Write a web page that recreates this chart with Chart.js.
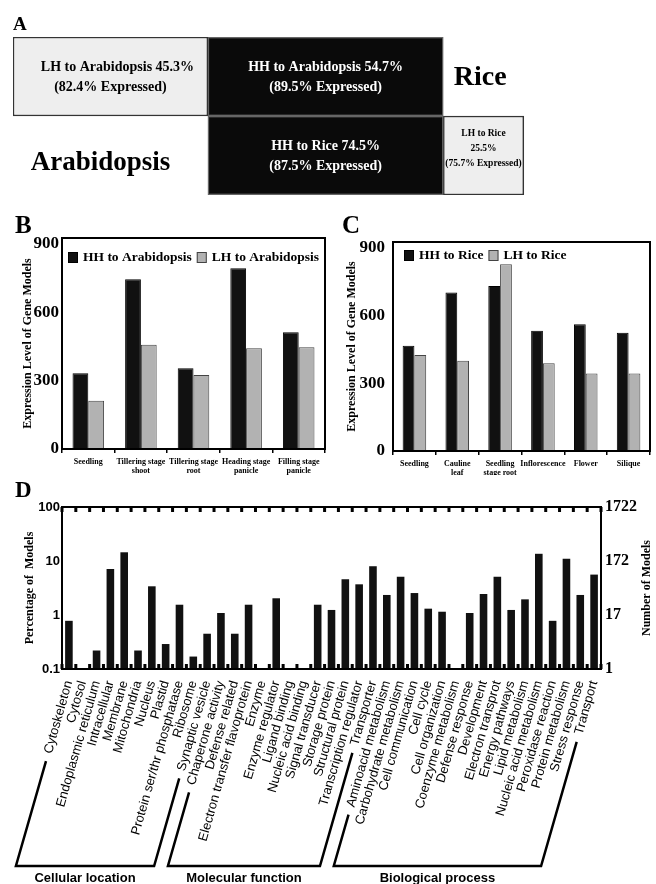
<!DOCTYPE html>
<html>
<head>
<meta charset="utf-8">
<script src="https://cdn.jsdelivr.net/npm/chart.js@4.4.1/dist/chart.umd.min.js"></script>
<style>
  html, body { margin: 0; padding: 0; background: #fff; }
  body { width: 656px; height: 884px; position: relative; overflow: hidden; }
  canvas { position: absolute; }
</style>
</head>
<body>
<canvas id="chartA" width="656" height="205" style="left:0;top:0"></canvas>
<canvas id="chartB" width="330" height="270" style="left:0;top:205px"></canvas>
<canvas id="chartC" width="331" height="270" style="left:325px;top:205px"></canvas>
<canvas id="chartD" width="656" height="409" style="left:0;top:475px"></canvas>
<script>
const SERIF = '"Liberation Serif", "Times New Roman", serif';
const SANS = '"Liberation Sans", Arial, sans-serif';

// panel A: share of homologous gene models
const mapRows = ['Rice', 'Arabidopsis'];
const mapNames = ['LH to Arabidopsis', 'HH to Arabidopsis', 'HH to Rice', 'LH to Rice'];
const mapShare = [45.3, 54.7, 74.5, 25.5];
const mapExpressed = [82.4, 89.5, 87.5, 75.7];

// panel B: rice tissues
const riceTissues = [['Seedling'], ['Tillering stage', 'shoot'], ['Tillering stage', 'root'], ['Heading stage', 'panicle'], ['Filling stage', 'panicle']];
const riceHH = [332, 745, 354, 793, 512];
const riceLH = [212, 457, 325, 442, 446];

// panel C: arabidopsis tissues
const arabTissues = [['Seedling'], ['Cauline', 'leaf'], ['Seedling', 'stage root'], ['Inflorescence'], ['Flower'], ['Silique']];
const arabHH = [467, 703, 732, 533, 562, 524];
const arabLH = [426, 400, 828, 389, 344, 344];

const exprTicks = [0, 300, 600, 900];

// panel D: GO categories
const goTerms = ['Cytoskeleton', 'Cytosol', 'Endoplasmic reticulum', 'Intracellular', 'Membrane', 'Mitochondria',
  'Nucleus', 'Plastid', 'Protein ser/thr phosphatase', 'Ribosome', 'Synaptic vesicle', 'Chaperone activity',
  'Defense related', 'Electron transfer flavoprotein', 'Enzyme', 'Enzyme regulator', 'Ligand binding',
  'Nucleic acid binding', 'Signal transducer', 'Storage protein', 'Structural protein', 'Transcription regulator',
  'Transporter', 'Aminoacid metabolism', 'Carbohydrate metabolism', 'Cell communication', 'Cell cycle',
  'Cell organization', 'Coenzyme metabolism', 'Defense response', 'Development', 'Electron transprot',
  'Energy pathways', 'Lipid metabolism', 'Nucleic acid metabolism', 'Peroxidase reaction', 'Protein metabolism',
  'Stress response', 'Transport'];
const goPercent = [0.78, null, 0.22, 7.1, 14.5, 0.22, 3.4, 0.29, 1.55, 0.17, 0.45, 1.09, 0.45, 1.55, null, 2.04,
  null, null, 1.55, 1.24, 4.6, 3.7, 8.0, 2.35, 5.1, 2.55, 1.31, 1.15, null, 1.09, 2.45, 5.1, 1.24, 1.95, 13.6,
  0.78, 11.0, 2.35, 5.6];
const goGroups = ['Cellular location', 'Molecular function', 'Biological process'];
const goGroupFirst = [0, 11, 23];
const goGroupLast = [10, 22, 38];
const percentTicks = [0.1, 1, 10, 100];
const totalModels = 1722;

Chart.defaults.color = '#000';
Chart.defaults.font.family = SERIF;

function panelLetter(letter, x, y, size) {
  return {
    id: 'letter' + letter,
    afterDraw(chart) {
      const ctx = chart.ctx;
      ctx.save();
      ctx.fillStyle = '#000';
      ctx.font = 'bold ' + size + 'px ' + SERIF;
      ctx.textBaseline = 'alphabetic';
      ctx.fillText(letter, x, y);
      ctx.restore();
    }
  };
}

const framePlugin = {
  id: 'frame',
  afterDraw(chart) {
    const { ctx, chartArea: a } = chart;
    ctx.save();
    ctx.strokeStyle = '#000';
    ctx.lineWidth = 2;
    ctx.strokeRect(a.left, a.top, a.right - a.left, a.bottom - a.top);
    ctx.restore();
  }
};

// legend sits inside the plot box, top left
function boxLegend(dx, dy, size) {
  return {
    id: 'boxLegend',
    afterDraw(chart) {
      const { ctx, chartArea: a } = chart;
      ctx.save();
      ctx.font = 'bold ' + size + 'px ' + SERIF;
      ctx.textBaseline = 'middle';
      let x = a.left + dx;
      const y = a.top + dy;
      chart.data.datasets.forEach(ds => {
        ctx.fillStyle = ds.backgroundColor;
        ctx.fillRect(x, y, 10, 11);
        ctx.strokeStyle = ds.borderColor;
        ctx.lineWidth = 1;
        ctx.strokeRect(x + 0.5, y + 0.5, 9, 10);
        ctx.fillStyle = '#000';
        ctx.fillText(ds.label, x + 15, y + 6);
        x += 15 + ctx.measureText(ds.label).width + 5;
      });
      ctx.restore();
    }
  };
}

// ---------- A ----------
const k = mapShare[1] / mapShare[2]; // row 2 scaled so both HH blocks line up
const spans = [
  [0, mapShare[0]],
  [mapShare[0], mapShare[0] + mapShare[1]],
  [mapShare[0], mapShare[0] + mapShare[2] * k],
  [mapShare[0] + mapShare[2] * k, mapShare[0] + (mapShare[2] + mapShare[3]) * k],
];
const aFill = ['#eeeeee', '#0a0a0a', '#0a0a0a', '#eeeeee'];
const aMax = 119;

new Chart(document.getElementById('chartA'), {
  type: 'bar',
  data: {
    labels: mapRows,
    datasets: mapNames.map((name, i) => ({
      label: name,
      data: i < 2 ? [spans[i], null] : [null, spans[i]],
      backgroundColor: aFill[i],
      borderColor: i === 0 || i === 3 ? '#333' : '#666',
      borderWidth: 1.5,
      borderSkipped: false,
      grouped: false,
      categoryPercentage: 1,
      barPercentage: 1,
    })),
  },
  options: {
    indexAxis: 'y',
    responsive: false,
    animation: false,
    layout: { padding: { left: 13, top: 37, right: 656 - 525, bottom: 10 } },
    plugins: { legend: { display: false }, tooltip: { enabled: false } },
    scales: {
      x: { type: 'linear', min: 0, max: aMax, display: false },
      y: { display: false },
    },
  },
  plugins: [panelLetter('A', 13, 30, 19), {
    id: 'boxText',
    afterDatasetsDraw(chart) {
      const ctx = chart.ctx;
      ctx.save();
      ctx.textAlign = 'center';
      ctx.textBaseline = 'middle';
      chart.data.datasets.forEach((ds, i) => {
        const bar = chart.getDatasetMeta(i).data[i < 2 ? 0 : 1];
        const cx = (bar.x + bar.base) / 2;
        ctx.fillStyle = aFill[i] === '#0a0a0a' ? '#fff' : '#000';
        if (i === 3) {
          ctx.font = 'bold 9.5px ' + SERIF;
          const lines = [mapNames[i], mapShare[i] + '%', '(' + mapExpressed[i] + '% Expressed)'];
          lines.forEach((t, j) => ctx.fillText(t, cx, bar.y - 7 + (j - 1) * 15));
        } else {
          ctx.font = 'bold 14px ' + SERIF;
          ctx.fillText(mapNames[i] + ' ' + mapShare[i] + '%', cx + (i === 0 ? 7 : 0), bar.y - 9);
          ctx.fillText('(' + mapExpressed[i] + '% Expressed)', cx, bar.y + 11);
        }
      });
      const x = chart.scales.x, y = chart.scales.y;
      ctx.fillStyle = '#000';
      ctx.font = 'bold 28px ' + SERIF;
      ctx.fillText(mapRows[0], x.getPixelForValue((mapShare[0] + mapShare[1] + aMax) / 2) - 4, y.getPixelForValue(0) + 1);
      ctx.font = 'bold 27px ' + SERIF;
      ctx.fillText(mapRows[1], x.getPixelForValue(mapShare[0] / 2) - 10, y.getPixelForValue(1) + 8);
      ctx.restore();
    }
  }],
});

// ---------- B / C ----------
function exprChart(id, letter, lx, labels, hh, lh, names, box) {
  return new Chart(document.getElementById(id), {
    type: 'bar',
    data: {
      labels: labels,
      datasets: [
        { label: names[0], data: hh, backgroundColor: '#111', borderColor: '#000', borderWidth: 1 },
        { label: names[1], data: lh, backgroundColor: '#b2b2b2', borderColor: '#444', borderWidth: 1 },
      ],
    },
    options: {
      responsive: false,
      animation: false,
      layout: { padding: { top: box.top, right: box.right, left: 0, bottom: 0 } },
      datasets: { bar: { categoryPercentage: box.cat, barPercentage: 1 } },
      plugins: {
        tooltip: { enabled: false },
        legend: { display: false },
      },
      scales: {
        x: {
          grid: { offset: true, drawOnChartArea: false, tickLength: 4, color: '#000', lineWidth: 1.5 },
          border: { color: '#000', width: 2 },
          ticks: { font: { family: SERIF, size: 8, weight: 'bold' }, color: '#000', padding: 4, maxRotation: 0, autoSkip: false },
          afterFit: s => { s.height = box.xh; },
        },
        y: {
          min: 0,
          max: box.max,
          afterBuildTicks: s => { s.ticks = exprTicks.map(v => ({ value: v })); },
          grid: { display: false, drawTicks: false },
          border: { color: '#000', width: 2 },
          ticks: { font: { family: SERIF, size: 17, weight: 'bold' }, color: '#000', padding: box.tickPad },
          title: {
            display: true,
            text: 'Expression Level of Gene Models',
            color: '#000',
            font: { family: SERIF, size: 12, weight: 'bold' },
            padding: { top: box.titlePad, bottom: 0 },
          },
          afterFit: s => { s.width = box.yw; },
        },
      },
    },
    plugins: [framePlugin, panelLetter(letter, lx, 28, 25), boxLegend(box.legX, box.legY, 13.5)],
  });
}

exprChart('chartB', 'B', 15, riceTissues, riceHH, riceLH, ['HH to Arabidopsis', 'LH to Arabidopsis'],
  { top: 33, right: 5, xh: 26, yw: 62, max: 926, cat: 0.6, titlePad: 21, tickPad: 3, legX: 6, legY: 14 });
exprChart('chartC', 'C', 17, arabTissues, arabHH, arabLH, ['HH to Rice', 'LH to Rice'],
  { top: 37, right: 6, xh: 24, yw: 68, max: 927, cat: 0.55, titlePad: 20, tickPad: 8, legX: 11, legY: 8 });

// ---------- D ----------
new Chart(document.getElementById('chartD'), {
  type: 'bar',
  data: {
    labels: goTerms,
    datasets: [{ data: goPercent, backgroundColor: '#111', categoryPercentage: 1, barPercentage: 0.55 }],
  },
  options: {
    responsive: false,
    animation: false,
    layout: { padding: { top: 32, left: 0, right: 0, bottom: 0 } },
    plugins: { legend: { display: false }, tooltip: { enabled: false } },
    scales: {
      x: {
        grid: { display: false },
        border: { color: '#000', width: 2 },
        ticks: { font: { family: SANS, size: 13 }, color: '#000', minRotation: 74, maxRotation: 74, autoSkip: false, padding: 2 },
        afterFit: s => { s.height = 215; },
      },
      y: {
        type: 'logarithmic',
        position: 'left',
        min: 0.1,
        max: 100,
        afterBuildTicks: s => { s.ticks = percentTicks.map(v => ({ value: v })); },
        grid: { display: false, drawTicks: false },
        border: { color: '#000', width: 2 },
        ticks: { font: { family: SANS, size: 13, weight: 'bold' }, color: '#000', padding: 2, callback: v => String(v) },
        title: {
          display: true,
          text: 'Percentage of  Models',
          color: '#000',
          font: { family: SERIF, size: 12, weight: 'bold' },
          padding: { top: 23, bottom: 0 },
        },
        afterFit: s => { s.width = 62; },
      },
      y2: {
        type: 'logarithmic',
        position: 'right',
        min: totalModels / 1000,
        max: totalModels,
        afterBuildTicks: s => { s.ticks = percentTicks.map(v => ({ value: v * totalModels / 100 })); },
        grid: { display: false, drawTicks: false },
        border: { color: '#000', width: 2 },
        ticks: { font: { family: SERIF, size: 16, weight: 'bold' }, color: '#000', padding: 4, callback: v => String(Math.floor(v + 1e-9)) },
        afterFit: s => { s.width = 55; },
      },
    },
  },
  plugins: [framePlugin, panelLetter('D', 15, 22, 23), {
    id: 'goDecor',
    afterDraw(chart) {
      const { ctx, chartArea: a } = chart;
      const x = chart.scales.x;
      ctx.save();
      ctx.fillStyle = '#000';
      // inner tick marks on top and bottom borders
      for (let i = 0; i <= goTerms.length; i++) {
        const px = x.getPixelForValue(i - 0.5);
        ctx.fillRect(px - 1.5, a.top, 3, 5);
        ctx.fillRect(px - 1.5, a.bottom - 5, 3, 5);
      }
      // right axis title, reading upward
      ctx.font = 'bold 12px ' + SERIF;
      ctx.textAlign = 'center';
      ctx.textBaseline = 'middle';
      ctx.translate(647, (a.top + a.bottom) / 2);
      ctx.rotate(-Math.PI / 2);
      ctx.fillText('Number of Models', 0, 0);
      ctx.setTransform(1, 0, 0, 1, 0, 0);

      // group brackets follow the label direction
      const items = x.getLabelItems();
      const yb = 391, gap = 8;
      const ends = i => {
        const it = items[i];
        ctx.font = it.font.string;
        const w = ctx.measureText(goTerms[i]).width;
        const rot = it.options.rotation;
        const off = it.textOffset || 0;
        const [tx, ty] = it.options.translation;
        const cx = tx - Math.sin(rot) * off, cy = ty + Math.cos(rot) * off;
        const dx = -Math.cos(rot), dy = -Math.sin(rot);
        const p0 = { x: cx + dx * (w + gap), y: cy + dy * (w + gap) };
        const t = (yb - p0.y) / dy;
        return [p0, { x: p0.x + dx * t, y: yb }];
      };
      ctx.strokeStyle = '#000';
      ctx.lineWidth = 2.5;
      goGroups.forEach((g, gi) => {
        const [a0, a1] = ends(goGroupFirst[gi]);
        const [b0, b1] = ends(goGroupLast[gi]);
        ctx.beginPath();
        ctx.moveTo(a0.x, a0.y);
        ctx.lineTo(a1.x, a1.y);
        ctx.lineTo(b1.x, b1.y);
        ctx.lineTo(b0.x, b0.y);
        ctx.stroke();
        ctx.font = 'bold 13px ' + SANS;
        ctx.textAlign = 'center';
        ctx.textBaseline = 'middle';
        ctx.fillText(g, (a1.x + b1.x) / 2, 403);
      });
      ctx.restore();
    }
  }],
});
</script>
</body>
</html>
